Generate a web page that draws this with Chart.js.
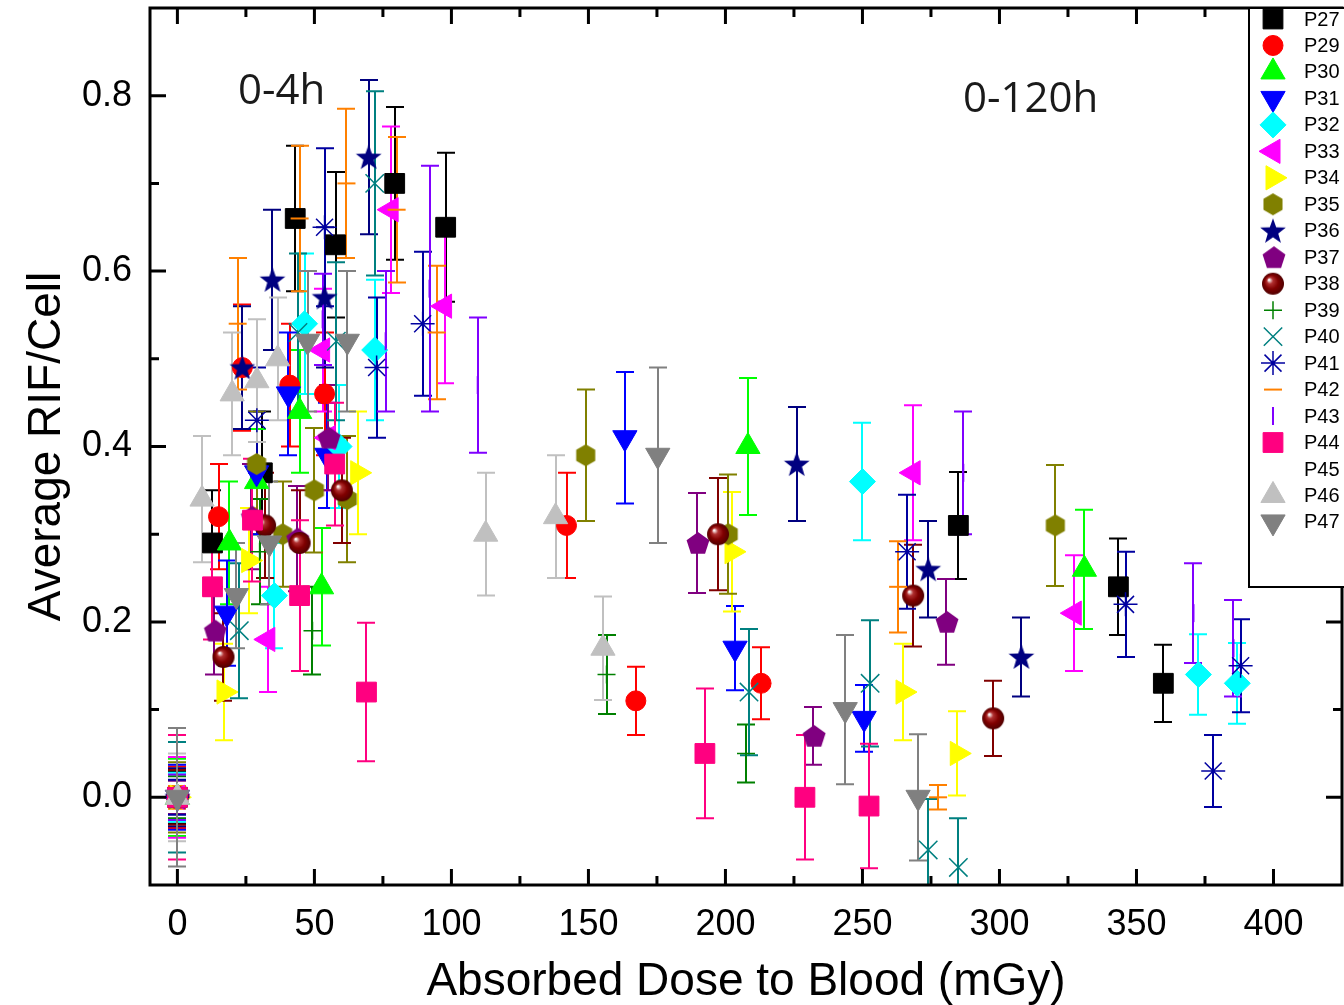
<!DOCTYPE html>
<html>
<head>
<meta charset="utf-8">
<script src="https://cdn.jsdelivr.net/npm/chart.js@4.4.1/dist/chart.umd.min.js"></script>
<style>
  html, body { margin: 0; padding: 0; background: #fff; }
</style>
</head>
<body>
<canvas id="chart" width="1344" height="1005"></canvas>
<script>
// ===== Data: [absorbed dose (mGy), average RIF/cell, error] per patient =====
const P27 = [[0,0,0.03],[12.8,0.29,0.06],[31,0.37,0.07],[43,0.66,0.083],[57.7,0.63,0.083],[79.3,0.70,0.087],[97.9,0.65,0.085],[285,0.31,0.061],[343.4,0.24,0.055],[359.8,0.13,0.044]];
const P29 = [[0,0,0.035],[15,0.32,0.06],[23.7,0.49,0.072],[41,0.47,0.07],[53.7,0.46,0.07],[142,0.31,0.06],[167.3,0.11,0.039],[213,0.13,0.041]];
const P30 = [[0,0,0.044],[19,0.29,0.07],[28.9,0.36,0.06],[44.6,0.44,0.07],[52.6,0.24,0.067],[208.2,0.40,0.078],[331,0.26,0.068]];
const P31 = [[0,0,0.037],[18,0.21,0.06],[28.9,0.37,0.07],[40.5,0.46,0.07],[54.5,0.39,0.06],[163.3,0.41,0.075],[203.5,0.17,0.048],[250.6,0.09,0.038]];
const P32 = [[0,0,0.028],[35.4,0.23,0.06],[46.4,0.54,0.08],[59,0.40,0.07],[72,0.51,0.08],[250,0.36,0.067],[372.6,0.14,0.046],[386.8,0.13,0.046]];
const P33 = [[0,0,0.046],[33,0.18,0.06],[53,0.51,0.07],[55,0.41,0.06],[78,0.67,0.095],[97.5,0.56,0.088],[268.5,0.37,0.077],[327.3,0.21,0.066]];
const P34 = [[0,0,0.01],[17,0.12,0.055],[26,0.27,0.06],[65.8,0.37,0.07],[202.4,0.28,0.068],[264.8,0.12,0.055],[284.6,0.05,0.048]];
const P35 = [[0,0,0.04],[28.9,0.38,0.06],[38.4,0.30,0.06],[50,0.35,0.071],[62,0.34,0.072],[149,0.39,0.075],[201,0.30,0.068],[320.4,0.31,0.069]];
const P36 = [[0,0,0.033],[23.7,0.49,0.07],[34.7,0.59,0.08],[53.7,0.57,0.08],[69.8,0.73,0.088],[226,0.38,0.065],[274,0.26,0.055],[308,0.16,0.045]];
const P37 = [[0,0,0.019],[13.5,0.19,0.05],[27,0.32,0.06],[43.5,0.295,0.06],[55,0.41,0.06],[189.6,0.29,0.057],[232,0.07,0.033],[280.5,0.20,0.049]];
const P38 = [[0,0,0.031],[16.8,0.16,0.05],[32,0.31,0.06],[44.6,0.29,0.06],[60,0.35,0.06],[197.3,0.30,0.064],[268.5,0.23,0.058],[297.7,0.09,0.043]];
const P39 = [[0,0,0.024],[30,0.28,0.06],[49.3,0.19,0.05],[156.6,0.14,0.045],[207.5,0.05,0.033]];
const P40 = [[0,0,0.063],[22.6,0.19,0.077],[44,0.53,0.09],[58,0.52,0.09],[72,0.70,0.105],[208.6,0.12,0.072],[252.8,0.13,0.072],[274,-0.06,0.058],[285,-0.08,0.056]];
const P41 = [[0,0,0.02],[29,0.43,0.06],[53.7,0.65,0.09],[72.7,0.49,0.08],[89.5,0.54,0.082],[266.3,0.28,0.065],[346,0.22,0.06],[378,0.03,0.041],[388,0.15,0.053]];
const P42 = [[0,0,0.013],[22,0.54,0.075],[44.6,0.66,0.083],[61.7,0.70,0.085],[80,0.67,0.083],[94.6,0.53,0.076],[263,0.24,0.052],[277.6,0.0,0.014]];
const P43 = [[0,0,0.026],[53,0.545,0.052],[76,0.52,0.08],[92,0.58,0.14],[109.6,0.47,0.077],[286.8,0.37,0.07],[370.8,0.21,0.057],[385.4,0.17,0.055]];
const P44 = [[0,0,0.071],[12.8,0.24,0.06],[27.4,0.316,0.07],[44.6,0.23,0.086],[57.4,0.38,0.07],[69,0.12,0.079],[192.5,0.05,0.074],[229,0.0,0.071],[252.4,-0.01,0.071]];
const P45 = [];
const P46 = [[0,0,0.05],[9,0.34,0.072],[20,0.46,0.07],[29,0.475,0.07],[36.6,0.50,0.07],[112.5,0.30,0.07],[138,0.32,0.07],[155.3,0.17,0.059]];
const P47 = [[0,0,0.079],[21.5,0.23,0.06],[33.6,0.29,0.07],[47.5,0.52,0.08],[62,0.52,0.08],[175.3,0.39,0.1],[243.7,0.10,0.085],[270.3,0.0,0.072]];

const seriesNames = ["P27","P29","P30","P31","P32","P33","P34","P35","P36","P37","P38","P39","P40","P41","P42","P43","P44","P45","P46","P47"];
const seriesData = [P27,P29,P30,P31,P32,P33,P34,P35,P36,P37,P38,P39,P40,P41,P42,P43,P44,P45,P46,P47];
const seriesColors = ["#000000","#FF0000","#00FF00","#0000FF","#00FFFF","#FF00FF","#FFFF00","#808000","#000080","#800080",
                      "#800000","#008000","#008080","#0000A0","#FF8000","#8000FF","#FF0080","#FFFFFF","#C0C0C0","#808080"];
const xTicks = [0, 50, 100, 150, 200, 250, 300, 350, 400];
const yTicks = [0, 0.2, 0.4, 0.6, 0.8];
const annotations = [["0-4h", 238, 92], ["0-120h", 963, 100]];

const FONT = "'Liberation Sans', Arial, sans-serif";

// ===== Custom marker shapes =====
function makeMarker(size, draw) {
  const c = document.createElement("canvas");
  c.width = c.height = size;
  draw(c.getContext("2d"), size / 2);
  return c;
}

function polygon(g, c, n, r, startDeg) {
  g.beginPath();
  for (let k = 0; k < n; k++) {
    const a = (startDeg + k * 360 / n) * Math.PI / 180;
    g.lineTo(c + r * Math.cos(a), c + r * Math.sin(a));
  }
  g.closePath();
}

const hexMarker = makeMarker(24, (g, c) => { polygon(g, c, 6, 11, -90); g.fillStyle = "#808000"; g.fill(); });
const pentMarker = makeMarker(26, (g, c) => { polygon(g, c + 1, 5, 12, -90); g.fillStyle = "#800080"; g.fill(); });
const starMarker = makeMarker(28, (g, c) => {
  g.beginPath();
  for (let k = 0; k < 10; k++) {
    const a = (-90 + k * 36) * Math.PI / 180;
    const r = k % 2 ? 5.5 : 13.5;
    g.lineTo(c + r * Math.cos(a), c + 1 + r * Math.sin(a));
  }
  g.closePath();
  g.fillStyle = "#000080";
  g.fill();
});
const sphereMarker = makeMarker(24, (g, c) => {
  const grad = g.createRadialGradient(c - 4, c - 4, 0.5, c, c, 11);
  grad.addColorStop(0, "#ffffff");
  grad.addColorStop(0.25, "#b03030");
  grad.addColorStop(0.6, "#800000");
  grad.addColorStop(1, "#500000");
  g.beginPath();
  g.arc(c, c, 11, 0, Math.PI * 2);
  g.fillStyle = grad;
  g.fill();
});

// pointStyle, rotation, radius, borderWidth
const seriesStyles = [
  ["rect", 0, 14, 1], ["circle", 0, 10, 1], ["triangle", 0, 14, 1], ["triangle", 180, 14, 1],
  ["rectRot", 0, 13, 1], ["triangle", -90, 14, 1], ["triangle", 90, 14, 1], [hexMarker, 0, 11, 1],
  [starMarker, 0, 12, 1], [pentMarker, 0, 12, 1], [sphereMarker, 0, 11, 1], ["cross", 0, 9, 1.5],
  ["crossRot", 0, 13, 1.5], ["star", 0, 12, 1.5], ["line", 0, 9, 2], ["line", 90, 9, 2],
  ["rect", 0, 14, 1], ["circle", 0, 0.1, 0], ["triangle", 0, 14, 1], ["triangle", 180, 14, 1]
];

const datasets = seriesNames.map((name, i) => ({
  label: name,
  data: seriesData[i].map(p => ({ x: p[0], y: p[1], err: p[2] })),
  showLine: false,
  order: seriesNames.length - i,
  backgroundColor: seriesColors[i],
  borderColor: seriesColors[i],
  pointStyle: seriesStyles[i][0],
  rotation: seriesStyles[i][1],
  pointRadius: seriesStyles[i][2],
  pointBorderWidth: seriesStyles[i][3]
}));

// ===== Plugins =====
const errorBars = {
  id: "errorBars",
  beforeDatasetsDraw(chart) {
    const { ctx, chartArea, scales: { x, y } } = chart;
    ctx.save();
    ctx.beginPath();
    ctx.rect(chartArea.left, chartArea.top, chartArea.width, chartArea.height);
    ctx.clip();
    ctx.lineWidth = 2;
    chart.data.datasets.forEach(ds => {
      ctx.strokeStyle = ds.borderColor;
      ds.data.forEach(p => {
        const px = Math.round(x.getPixelForValue(p.x));
        const top = y.getPixelForValue(p.y + p.err);
        const bot = y.getPixelForValue(p.y - p.err);
        ctx.beginPath();
        ctx.moveTo(px, top); ctx.lineTo(px, bot);
        ctx.moveTo(px - 9, top); ctx.lineTo(px + 9, top);
        ctx.moveTo(px - 9, bot); ctx.lineTo(px + 9, bot);
        ctx.stroke();
      });
    });
    ctx.restore();
  }
};

const frameAndTicks = {
  id: "frameAndTicks",
  afterDatasetsDraw(chart) {
    const { ctx, chartArea: a, scales: { x, y } } = chart;
    ctx.save();
    ctx.strokeStyle = "#000";
    ctx.lineWidth = 3;
    ctx.strokeRect(a.left, a.top, a.right - a.left, a.bottom - a.top);
    const xStep = xTicks[1] - xTicks[0];
    const yStep = yTicks[1] - yTicks[0];
    const xs = [], ys = [];
    xTicks.forEach(v => { xs.push([v, 16]); xs.push([v + xStep / 2, 9]); });
    yTicks.forEach(v => { ys.push([v, 16]); ys.push([v + yStep / 2, 9]); ys.push([v - yStep / 2, 9]); });
    ctx.beginPath();
    xs.forEach(([v, len]) => {
      const px = x.getPixelForValue(v);
      if (px <= a.left || px >= a.right) return;
      ctx.moveTo(px, a.bottom); ctx.lineTo(px, a.bottom - len);
      ctx.moveTo(px, a.top); ctx.lineTo(px, a.top + len);
    });
    ys.forEach(([v, len]) => {
      const py = y.getPixelForValue(v);
      if (py <= a.top || py >= a.bottom) return;
      ctx.moveTo(a.left, py); ctx.lineTo(a.left + len, py);
      ctx.moveTo(a.right, py); ctx.lineTo(a.right - len, py);
    });
    ctx.stroke();

    ctx.fillStyle = "#1a1a1a";
    ctx.font = "42px 'Open Sans', sans-serif";
    ctx.textBaseline = "middle";
    ctx.textAlign = "left";
    annotations.forEach(([t, tx, ty]) => ctx.fillText(t, tx, ty));
    ctx.restore();
  }
};

const sideLegend = {
  id: "sideLegend",
  afterDraw(chart) {
    const { ctx, chartArea: a } = chart;
    const left = 1249, top = a.top, bottom = 587, rowH = 26.47;
    ctx.save();
    ctx.fillStyle = "#fff";
    ctx.fillRect(left, top, 1344 - left, bottom - top);
    ctx.strokeStyle = "#000";
    ctx.lineWidth = 2;
    ctx.strokeRect(left, top, 1344 - left + 4, bottom - top);
    chart.data.datasets.forEach((ds, i) => {
      const cy = 19 + i * rowH;
      ctx.fillStyle = ds.backgroundColor;
      ctx.strokeStyle = ds.borderColor;
      ctx.lineWidth = ds.pointBorderWidth;
      Chart.helpers.drawPoint(ctx, {
        pointStyle: ds.pointStyle, rotation: ds.rotation,
        radius: ds.pointRadius, borderWidth: ds.pointBorderWidth
      }, 1273, cy);
      ctx.fillStyle = "#000";
      ctx.font = "20px " + FONT;
      ctx.textAlign = "left";
      ctx.textBaseline = "middle";
      ctx.fillText(ds.label, 1304, cy + 1);
    });
    ctx.restore();
  }
};

function noPadding(s) {
  s.paddingTop = 0; s.paddingBottom = 0; s.paddingLeft = 0; s.paddingRight = 0;
}

// ===== Chart =====
new Chart(document.getElementById("chart"), {
  type: "scatter",
  data: { datasets },
  plugins: [errorBars, frameAndTicks, sideLegend],
  options: {
    responsive: false,
    animation: false,
    layout: { autoPadding: false, padding: { top: 8, right: 2, left: 0, bottom: 0 } },
    plugins: { legend: { display: false }, tooltip: { enabled: false } },
    scales: {
      x: {
        type: "linear", min: -10, max: 425,
        afterBuildTicks: s => { s.ticks = xTicks.map(v => ({ value: v })); },
        afterFit: s => { s.height = 120; noPadding(s); },
        grid: { display: false, drawTicks: false },
        border: { display: false },
        ticks: { color: "#000", font: { family: FONT, size: 36 }, padding: 18, maxRotation: 0, autoSkip: false },
        title: { display: true, text: "Absorbed Dose to Blood (mGy)", color: "#000",
                 font: { family: FONT, size: 46 }, padding: { top: 0, bottom: -5 } }
      },
      y: {
        type: "linear", min: -0.1, max: 0.9,
        afterBuildTicks: s => { s.ticks = yTicks.map(v => ({ value: v })); },
        afterFit: s => { s.width = 150; noPadding(s); },
        grid: { display: false, drawTicks: false },
        border: { display: false },
        ticks: { color: "#000", font: { family: FONT, size: 36 }, padding: 18,
                 callback: v => v.toFixed(1) },
        title: { display: true, text: "Average RIF/Cell", color: "#000",
                 font: { family: FONT, size: 46 }, padding: { top: 20, bottom: 0 } }
      }
    }
  }
});
</script>
</body>
</html>
